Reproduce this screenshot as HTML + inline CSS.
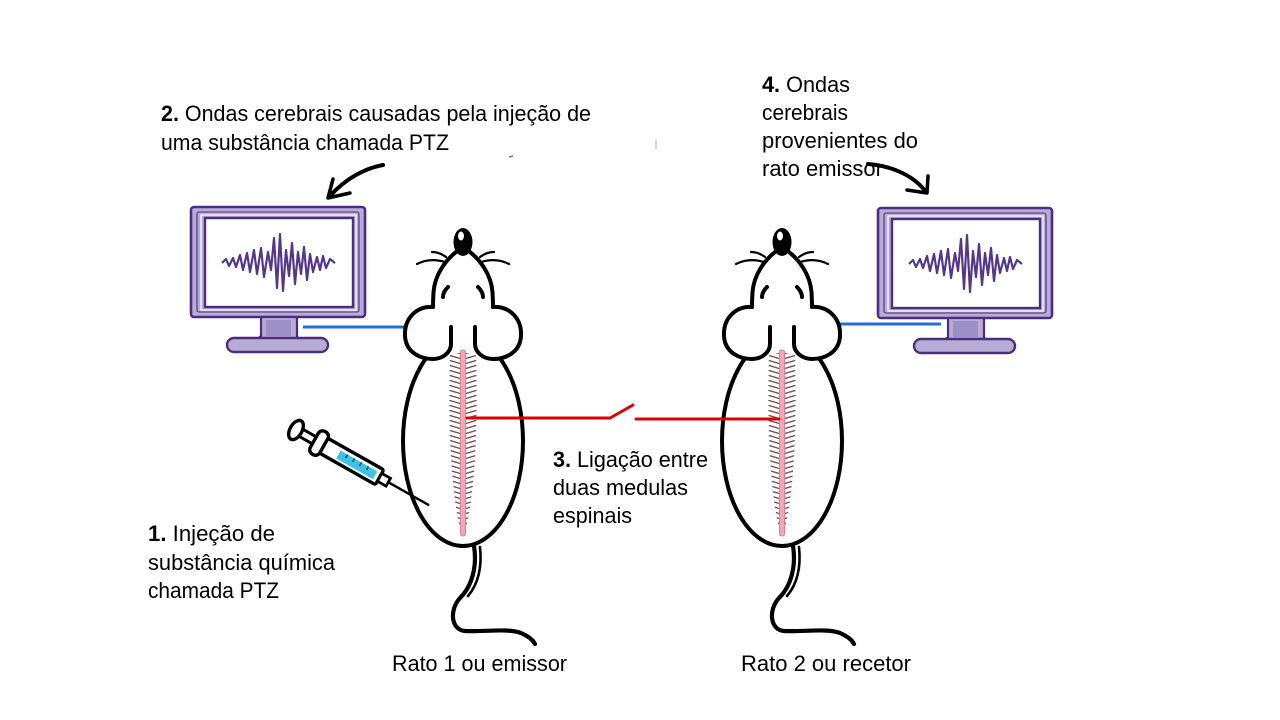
<!DOCTYPE html>
<html><head><meta charset="utf-8">
<style>
html,body{margin:0;padding:0;background:#fff;}
svg{display:block;}
text{font-family:"Liberation Sans",Arial,sans-serif;font-size:22px;fill:#000;}
</style></head>
<body>
<svg width="1280" height="720" viewBox="0 0 1280 720" xmlns="http://www.w3.org/2000/svg">
<defs>
  <pattern id="ribs" patternUnits="userSpaceOnUse" x="-15" y="0" width="30" height="5">
    <path d="M1,0.2 L13.8,4 M29,0.2 L16.2,4" stroke="#7a5050" stroke-width="1.4" fill="none"/>
  </pattern>
  <g id="rat">
    <!-- body -->
    <ellipse cx="0" cy="441" rx="60" ry="105" fill="#fff" stroke="#000" stroke-width="4"/>
    <!-- tail -->
    <path d="M11,546 C14,565 10,585 -3,598 C-14,610 -12,630 2,631 C20,632 45,628 58,633 C65,636 70,640 72,644" fill="none" stroke="#000" stroke-width="4.2" stroke-linecap="round"/>
    <path d="M17,547 C19,566 16,583 5,596" fill="none" stroke="#000" stroke-width="2.6" stroke-linecap="round"/>
    <!-- head fill -->
    <path d="M-7,252 C-17,260 -28,274 -29.5,292 C-30,300 -30,304 -30,307 C-46,306 -59,318 -58,336 C-57,353 -42,359 -30,359 L30,359 C42,359 57,353 58,336 C59,318 46,306 30,307 C30,304 30,300 29.5,292 C28,274 17,260 7,252 Z" fill="#fff"/>
    <!-- head outline -->
    <path d="M-7,252 C-17,260 -28,274 -29.5,292 C-30,300 -30,304 -30,307" fill="none" stroke="#000" stroke-width="4" stroke-linecap="round"/>
    <path d="M7,252 C17,260 28,274 29.5,292 C30,300 30,304 30,307" fill="none" stroke="#000" stroke-width="4" stroke-linecap="round"/>
    <!-- ears -->
    <path d="M-30,307 C-46,306 -59,318 -58,336 C-57,353 -42,359 -30,359 C-20,359 -12,352 -12,344 L-12,327" fill="none" stroke="#000" stroke-width="4" stroke-linecap="round" stroke-linejoin="round"/>
    <path d="M30,307 C46,306 59,318 58,336 C57,353 42,359 30,359 C20,359 12,352 12,344 L12,327" fill="none" stroke="#000" stroke-width="4" stroke-linecap="round" stroke-linejoin="round"/>
    <!-- nose -->
    <ellipse cx="0" cy="242" rx="9.5" ry="14" fill="#000"/>
    <ellipse cx="-2" cy="236" rx="3" ry="4.5" fill="#fff"/>
    <!-- whiskers -->
    <path d="M-17,257 C-21,254 -26,252 -31,252 M-18,262 C-28,259 -38,260 -46,264" fill="none" stroke="#000" stroke-width="2.2" stroke-linecap="round"/>
    <path d="M17,257 C21,254 26,252 31,252 M18,262 C28,259 38,260 46,264" fill="none" stroke="#000" stroke-width="2.2" stroke-linecap="round"/>
    <!-- eyes -->
    <path d="M-15,287 C-18,290 -20,293 -20,297" fill="none" stroke="#000" stroke-width="4" stroke-linecap="round"/>
    <path d="M15,287 C18,290 20,293 20,297" fill="none" stroke="#000" stroke-width="4" stroke-linecap="round"/>
    <!-- spine -->
    <path d="M-13,353 L13,353 C15,420 13,492 1,537 L-1,537 C-13,492 -15,420 -13,353 Z" fill="url(#ribs)"/>
    <rect x="-2.6" y="350" width="5.2" height="186" rx="2" fill="#f4a5b6" stroke="#c9808f" stroke-width="0.8"/>
  </g>
  <g id="monitor">
    <rect x="191" y="207" width="174" height="110" rx="3" fill="#b7acd6" stroke="#4b2e7e" stroke-width="2.6"/>
    <rect x="197" y="212" width="162" height="100" rx="2" fill="none" stroke="#4b2e7e" stroke-width="1.1"/>
    <rect x="201" y="215" width="155" height="95" fill="none" stroke="#fff" stroke-width="1.2"/>
    <rect x="205" y="218" width="148" height="89" fill="#fff" stroke="#4b2e7e" stroke-width="2.4"/>
    <path d="M261,317 L261,336 C259,338 256,339 254,340 L303,340 C300,339 297,338 297,336 L297,317 Z" fill="#b7acd6" stroke="#4b2e7e" stroke-width="2.2" stroke-linejoin="round"/>
    <rect x="266" y="320" width="25" height="16" fill="#9d90c6"/>
    <rect x="227" y="338" width="101" height="14" rx="7" fill="#b7acd6" stroke="#4b2e7e" stroke-width="2.4"/>
    <polyline points="222,263 226,259 229,266 233,258 236,267 240,255 243,270 247,253 250,272 254,250 257,274 261,248 264,277 268,252 271,270 274,238 277,288 280,234 283,291 286,250 289,276 292,243 295,284 298,252 301,274 304,247 307,280 310,254 313,272 317,257 320,270 323,256 326,268 330,259 335,263" fill="none" stroke="#55378a" stroke-width="2.2" stroke-linejoin="round"/>
  </g>
</defs>

<!-- monitors -->
<use href="#monitor"/>
<use href="#monitor" transform="translate(687,1)"/>

<!-- blue wires -->
<line x1="303" y1="327" x2="409" y2="327" stroke="#1f6fd6" stroke-width="3"/>
<line x1="837" y1="324" x2="941" y2="324" stroke="#1f6fd6" stroke-width="3"/>

<!-- rats -->
<use href="#rat" transform="translate(463,0)"/>
<use href="#rat" transform="translate(782,0)"/>

<!-- red connection -->
<path d="M467,418 L610,418 L633,405" fill="none" stroke="#e00000" stroke-width="3" stroke-linecap="round" stroke-linejoin="round"/>
<path d="M636,419 L779,419" fill="none" stroke="#e00000" stroke-width="3" stroke-linecap="round"/>

<!-- syringe -->
<g transform="translate(296,430) rotate(29.5)">
  <line x1="106" y1="0" x2="152" y2="0" stroke="#000" stroke-width="2.4" stroke-linecap="round"/>
  <rect x="5" y="-4" width="18" height="8" fill="#fff" stroke="#000" stroke-width="3"/>
  <ellipse cx="0" cy="0" rx="6" ry="10.5" fill="#fff" stroke="#000" stroke-width="3.4"/>
  <rect x="21" y="-13" width="11" height="26" rx="5" fill="#fff" stroke="#000" stroke-width="3.4"/>
  <rect x="32" y="-8.5" width="64" height="17" rx="2" fill="#fff" stroke="#000" stroke-width="3.4"/>
  <rect x="49" y="-4" width="42" height="9" fill="#3cc3e6"/>
  <path d="M57,-4 L57,0 M65,-4 L65,0 M73,-4 L73,0 M81,-4 L81,0" stroke="#1d4e60" stroke-width="1.6"/>
  <rect x="96" y="-4.5" width="10" height="9" fill="#fff" stroke="#000" stroke-width="2.8"/>
</g>

<!-- arrows -->
<path d="M383,165 C366,168 346,178 330,196" fill="none" stroke="#000" stroke-width="4" stroke-linecap="round"/>
<path d="M333,179 L328,198 L350,193" fill="none" stroke="#000" stroke-width="3.5" stroke-linecap="round" stroke-linejoin="round"/>
<path d="M868,164 C893,166 914,176 926,192" fill="none" stroke="#000" stroke-width="4" stroke-linecap="round"/>
<path d="M907,190 L927,193 L928,176" fill="none" stroke="#000" stroke-width="3.5" stroke-linecap="round" stroke-linejoin="round"/>

<!-- small marks -->
<line x1="509" y1="157" x2="513" y2="156" stroke="#777" stroke-width="1.5"/>
<line x1="656" y1="140" x2="656" y2="149" stroke="#bbb" stroke-width="1.2"/>

<!-- labels -->
<text x="161" y="121" textLength="430" lengthAdjust="spacingAndGlyphs"><tspan font-weight="bold">2.</tspan> Ondas cerebrais causadas pela injeção de</text>
<text x="161" y="150" textLength="288" lengthAdjust="spacingAndGlyphs">uma substância chamada PTZ</text>

<text x="762" y="92" textLength="88" lengthAdjust="spacingAndGlyphs"><tspan font-weight="bold">4.</tspan> Ondas</text>
<text x="762" y="120" textLength="86" lengthAdjust="spacingAndGlyphs">cerebrais</text>
<text x="762" y="148" textLength="156" lengthAdjust="spacingAndGlyphs">provenientes do</text>
<text x="762" y="176" textLength="121" lengthAdjust="spacingAndGlyphs">rato emissor</text>

<text x="553" y="467" textLength="155" lengthAdjust="spacingAndGlyphs"><tspan font-weight="bold">3.</tspan> Ligação entre</text>
<text x="553" y="495" textLength="135" lengthAdjust="spacingAndGlyphs">duas medulas</text>
<text x="553" y="523" textLength="79" lengthAdjust="spacingAndGlyphs">espinais</text>

<text x="148" y="541" textLength="127" lengthAdjust="spacingAndGlyphs"><tspan font-weight="bold">1.</tspan> Injeção de</text>
<text x="148" y="570" textLength="187" lengthAdjust="spacingAndGlyphs">substância química</text>
<text x="148" y="598" textLength="131" lengthAdjust="spacingAndGlyphs">chamada PTZ</text>

<text x="392" y="671" textLength="175" lengthAdjust="spacingAndGlyphs">Rato 1 ou emissor</text>
<text x="741" y="671" textLength="170" lengthAdjust="spacingAndGlyphs">Rato 2 ou recetor</text>
</svg>
</body></html>
